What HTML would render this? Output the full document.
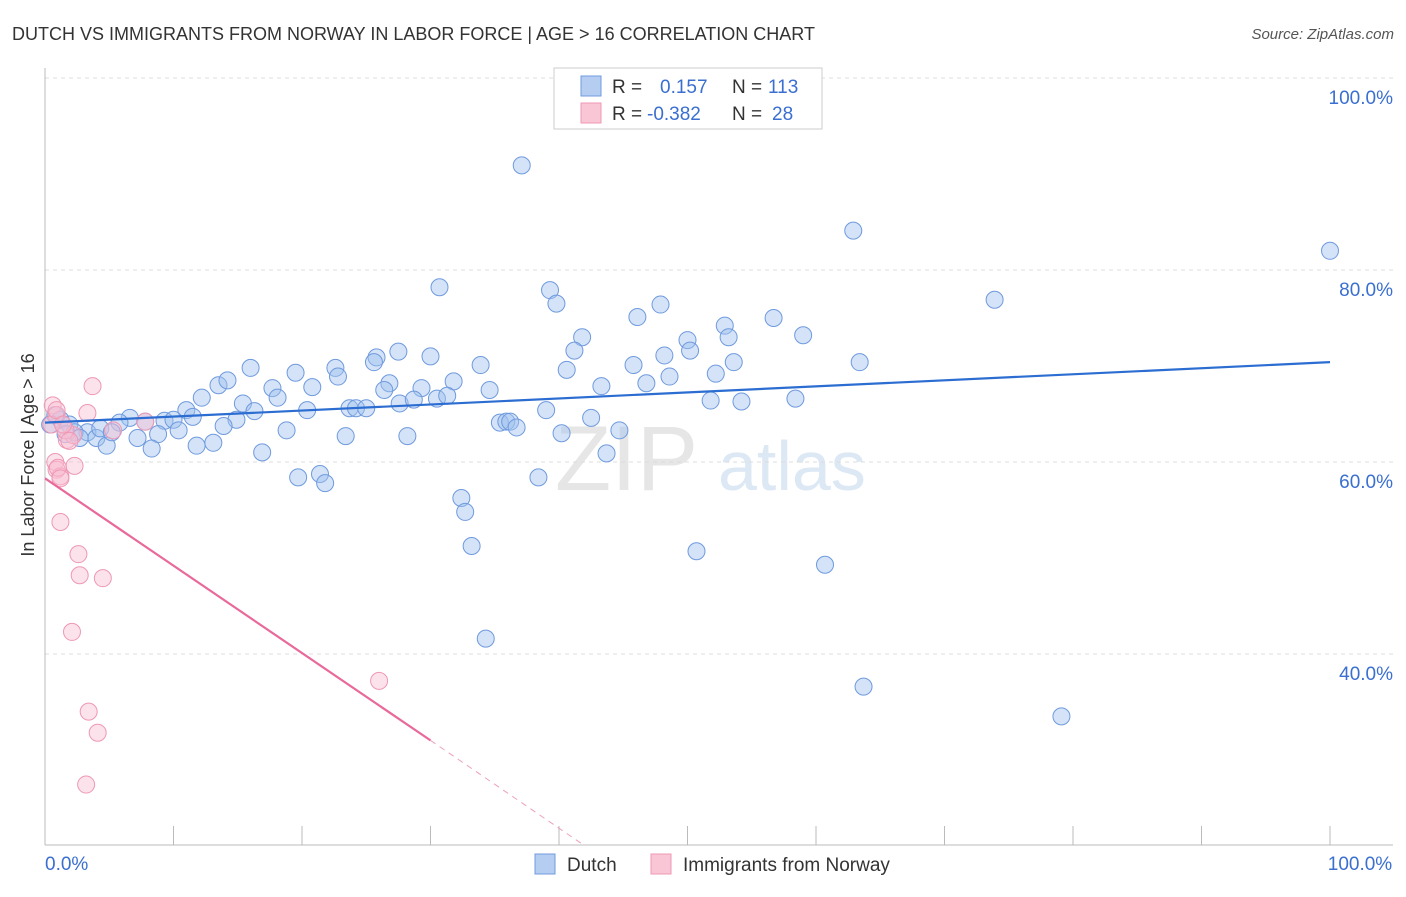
<!DOCTYPE html>
<html><head><meta charset="utf-8"><style>
body{margin:0;background:#fff;font-family:"Liberation Sans",sans-serif;}
svg text{font-family:"Liberation Sans",sans-serif;}
</style></head><body>
<svg id="chart" width="1406" height="892" xmlns="http://www.w3.org/2000/svg">
<text x="12" y="40" font-size="18" fill="#333">DUTCH VS IMMIGRANTS FROM NORWAY IN LABOR FORCE | AGE &gt; 16 CORRELATION CHART</text>
<text x="1394" y="39" font-size="15" fill="#555" font-style="italic" text-anchor="end">Source: ZipAtlas.com</text>
<g><text x="555" y="490" font-size="92" fill="#e6e6e6" font-family="Liberation Serif" >ZIP</text><text x="718" y="490" font-size="70" fill="#dde8f5">atlas</text></g>
<g id="grid"></g>
<g id="axes"></g>
<g id="marks"></g>
<g>
<rect x="554" y="68" width="268" height="61" fill="#fff" stroke="#ccc"/>
<rect x="581" y="76" width="20" height="20" fill="#b4cdf0" stroke="#6f9ade"/>
<rect x="581" y="103" width="20" height="20" fill="#f9c6d6" stroke="#ee98b4"/>
<text x="612" y="93" font-size="19" fill="#333">R =  <tspan fill="#3a6fd0" x="660">0.157</tspan><tspan fill="#333" x="732">N =</tspan><tspan fill="#3a6fd0" x="768">113</tspan></text>
<text x="612" y="120" font-size="19" fill="#333">R = <tspan fill="#3a6fd0" x="647">-0.382</tspan><tspan fill="#333" x="732">N =</tspan><tspan fill="#3a6fd0" x="772">28</tspan></text>
</g>
<g>
<rect x="535" y="854" width="20" height="20" fill="#b4cdf0" stroke="#6f9ade"/>
<text x="567" y="871" font-size="19" fill="#333">Dutch</text>
<rect x="651" y="854" width="20" height="20" fill="#f9c6d6" stroke="#ee98b4"/>
<text x="683" y="871" font-size="19" fill="#333">Immigrants from Norway</text>
</g>
<text transform="translate(34,455) rotate(-90)" font-size="18" fill="#333" text-anchor="middle">In Labor Force | Age &gt; 16</text>
</svg>
<script>
const yTicks=[100,80,60,40];
const yTickLabels=["100.0%","80.0%","60.0%","40.0%"];
const xEndLabels=["0.0%","100.0%"];
const dutchX=[37.1,62.9,100,30.7,39.3,39.8,47.9,73.9,46.1,56.7,52.9,41.8,59.0,50.0,53.2,41.2,16.0,22.6,25.8,25.6,27.5,30.0,33.9,48.2,50.2,53.6,63.4,40.6,45.8,13.5,14.2,19.5,20.8,22.8,17.7,18.1,12.2,26.8,26.4,29.3,31.8,34.6,43.3,46.8,48.6,52.2,27.6,28.7,30.5,31.3,15.4,16.3,11.0,11.5,20.4,23.7,24.2,25.0,39.0,51.8,54.2,58.4,6.6,5.8,7.8,9.3,10.0,10.4,14.9,13.9,35.4,35.9,36.2,36.7,42.5,1.2,1.9,3.3,4.0,4.8,7.2,8.8,13.1,11.8,8.3,16.9,18.8,23.4,28.2,40.2,44.7,43.7,19.7,21.4,21.8,38.4,32.4,32.7,33.2,50.7,60.7,34.3,63.7,79.1,0.8,0.4,2.3,4.3,1.6,5.2,2.7];
const dutchY=[90.9,84.1,82.0,78.2,77.9,76.5,76.4,76.9,75.1,75.0,74.2,73.0,73.2,72.7,73.0,71.6,69.8,69.8,70.9,70.4,71.5,71.0,70.1,71.1,71.6,70.4,70.4,69.6,70.1,68.0,68.5,69.3,67.8,68.9,67.7,66.7,66.7,68.2,67.5,67.7,68.4,67.5,67.9,68.2,68.9,69.2,66.1,66.5,66.6,66.9,66.1,65.3,65.4,64.7,65.4,65.6,65.6,65.6,65.4,66.4,66.3,66.6,64.6,64.1,64.2,64.3,64.4,63.3,64.4,63.75,64.1,64.2,64.2,63.6,64.6,64.4,63.9,63.1,62.5,61.7,62.5,62.9,62.0,61.7,61.4,61.0,63.3,62.7,62.7,63.0,63.3,60.9,58.4,58.75,57.8,58.4,56.25,54.8,51.25,50.7,49.3,41.6,36.6,33.5,64.9,63.9,63.1,63.5,62.9,63.1,62.5];
const norX=[0.6,0.9,3.7,3.3,7.8,5.3,1.7,2.2,0.8,0.9,1.2,2.3,1.2,2.6,2.7,4.5,2.1,26.0,3.4,4.1,3.2,1.6,0.5,0.9,1.4,1.0,1.9,1.2];
const norY=[65.9,64.9,67.9,65.1,64.2,63.3,62.3,62.8,60.0,59.2,58.5,59.6,53.75,50.4,48.2,47.9,42.3,37.2,34.0,31.8,26.4,63.3,63.9,65.4,63.9,59.4,62.2,58.3];
const dutchTrend=[64.1,70.4];
const norTrend=[58.3,31.0,20.3];
const norTrendX=[0,30,41.7];
const L=45,R=1330,T0=78;
const sx=v=>L+v*(R-L)/100;
const sy=v=>T0+(100-v)*9.6;
const NS="http://www.w3.org/2000/svg";
function mk(tag,attrs,parent){const e=document.createElementNS(NS,tag);for(const k in attrs)e.setAttribute(k,attrs[k]);parent.appendChild(e);return e;}
const grid=document.getElementById('grid'),axes=document.getElementById('axes'),marks=document.getElementById('marks');
yTicks.forEach((t,i)=>{
 const g=mk('line',{x1:L,x2:1393,y1:sy(t),y2:sy(t),stroke:'#dcdcdc','stroke-dasharray':'4,4'},grid);
 
 
 const tx=mk('text',{x:1393,y:sy(t)+26,'font-size':19,fill:'#3a6fd0','text-anchor':'end'},axes);
 tx.textContent=yTickLabels[i];
 
 
});
const ax=mk('line',{x1:L,x2:L,y1:68,y2:845,stroke:'#bbb'},axes);


const bx=mk('line',{x1:L,x2:1393,y1:845,y2:845,stroke:'#bbb'},axes);


for(let i=0;i<=10;i++){
 const tk=mk('line',{x1:sx(i*10),x2:sx(i*10),y1:826,y2:845,stroke:'#bbb'},axes);
 
 
}
[[0,'start'],[100,'middle']].forEach((p,i)=>{
 const t=mk('text',{x:i?sx(100)+30:sx(0),y:870,'font-size':19,fill:'#3a6fd0','text-anchor':p[1]},axes);
 t.textContent=xEndLabels[i];
 
 
});
dutchX.forEach((x,i)=>{
 const c=mk('circle',{cx:sx(x),cy:sy(dutchY[i]),r:8.5,fill:'rgba(160,192,238,0.45)',stroke:'#6f9ade','stroke-width':1},marks);
 
 
});
norX.forEach((x,i)=>{
 const c=mk('circle',{cx:sx(x),cy:sy(norY[i]),r:8.5,fill:'rgba(248,190,210,0.45)',stroke:'#ee98b4','stroke-width':1},marks);
 
 
});
const dl=mk('line',{x1:sx(0),y1:sy(dutchTrend[0]),x2:sx(100),y2:sy(dutchTrend[1]),stroke:'#2c6dd2','stroke-width':2.2},marks);


const nl=mk('line',{x1:sx(norTrendX[0]),y1:sy(norTrend[0]),x2:sx(norTrendX[1]),y2:sy(norTrend[1]),stroke:'#e8699a','stroke-width':2.2},marks);


const nd=mk('line',{x1:sx(norTrendX[1]),y1:sy(norTrend[1]),x2:sx(norTrendX[2]),y2:sy(norTrend[2]),stroke:'#eea0bc','stroke-width':1,'stroke-dasharray':'6,5'},marks);


</script>
</body></html>
